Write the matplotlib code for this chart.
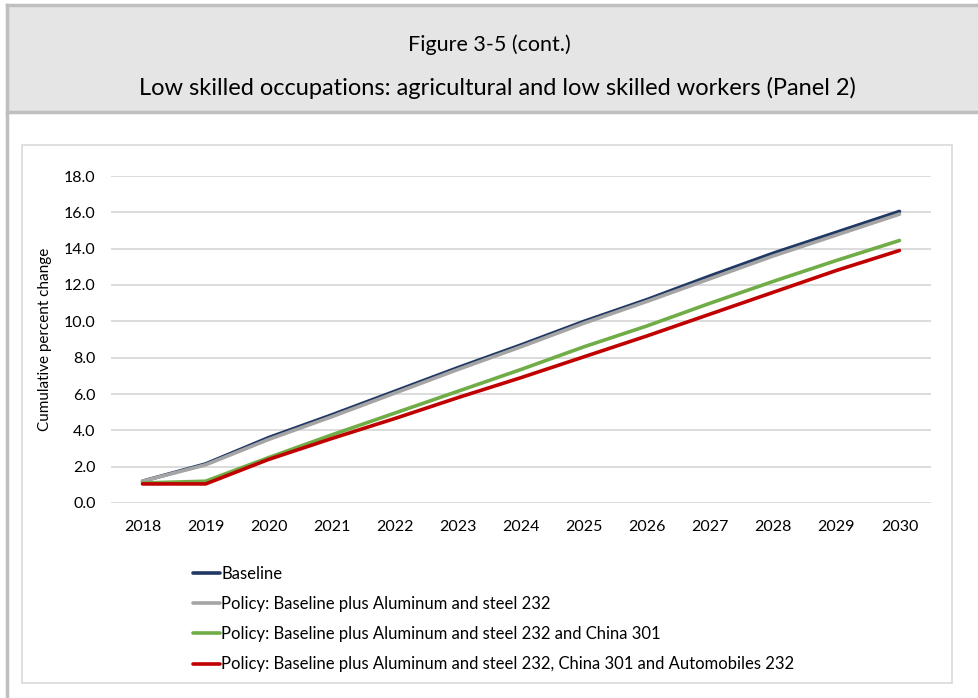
import matplotlib
matplotlib.use("Agg")
import matplotlib.pyplot as plt
from matplotlib.lines import Line2D
from matplotlib.patches import Rectangle
from matplotlib import font_manager

# Series data
years = ["2018", "2019", "2020", "2021", "2022", "2023", "2024",
         "2025", "2026", "2027", "2028", "2029", "2030"]
baseline = [1.2, 2.15, 3.6, 4.85, 6.15, 7.45, 8.7, 10.0, 11.2, 12.5, 13.75, 14.9, 16.05]
policy_alsteel = [1.2, 2.1, 3.5, 4.75, 6.05, 7.35, 8.6, 9.9, 11.1, 12.35, 13.6, 14.75, 15.9]
policy_china = [1.1, 1.2, 2.5, 3.75, 4.95, 6.15, 7.35, 8.6, 9.75, 11.0, 12.2, 13.35, 14.45]
policy_autos = [1.05, 1.05, 2.4, 3.55, 4.65, 5.8, 6.9, 8.05, 9.2, 10.4, 11.6, 12.8, 13.9]

series_names = [
    "Baseline",
    "Policy: Baseline plus Aluminum and steel 232",
    "Policy: Baseline plus Aluminum and steel 232 and China 301",
    "Policy: Baseline plus Aluminum and steel 232, China 301 and Automobiles 232",
]
series_colors = ["#203864", "#a5a5a5", "#70ad47", "#c00000"]
y_ticks = [0, 2, 4, 6, 8, 10, 12, 14, 16, 18]

title_line1 = "Figure 3-5 (cont.)"
title_line2 = "Low skilled occupations: agricultural and low skilled workers (Panel 2)"
y_label = "Cumulative percent change"

available = {f.name for f in font_manager.fontManager.ttflist}
body_font = "Lato" if "Lato" in available else "DejaVu Sans"
title_font = body_font

W, H = 979, 698
fig = plt.figure(figsize=(W / 100, H / 100), dpi=100)
fig.patch.set_facecolor("white")


def px(x, y):
    return x / W, 1 - y / H


# Header band and frame
x0, y0 = px(7, 5)
x1, y1 = px(W + 5, 112)
fig.patches.append(Rectangle((x0, y1), x1 - x0, y0 - y1, transform=fig.transFigure,
                             facecolor="#e5e5e5", edgecolor="none", zorder=0))
fig.lines.append(Line2D([x0, x1], [y0, y0], transform=fig.transFigure, color="#bfbfbf", lw=2.5))
fig.lines.append(Line2D([x0, x1], [y1, y1], transform=fig.transFigure, color="#bfbfbf", lw=2.5))
fig.lines.append(Line2D([x0, x0], [y0, 0], transform=fig.transFigure, color="#bfbfbf", lw=2.5))

# Chart area border
cx0, cy0 = px(22, 145)
cx1, cy1 = px(952, 683)
fig.patches.append(Rectangle((cx0, cy1), cx1 - cx0, cy0 - cy1, transform=fig.transFigure,
                             facecolor="none", edgecolor="#d9d9d9", lw=1.2, zorder=0))

# Titles
fig.text(*px(489, 45), title_line1, ha="center", va="center",
         fontsize=15.5, family=title_font, color="#000000")
fig.text(*px(497, 88), title_line2, ha="center", va="center",
         fontsize=17, family=title_font, color="#000000")

# Plot area
ax_l, ax_b = px(111, 503)
ax_r, ax_t = px(931, 176)
ax = fig.add_axes([ax_l, ax_b, ax_r - ax_l, ax_t - ax_b])
ax.set_facecolor("none")

x = list(range(len(years)))
series = [baseline, policy_alsteel, policy_china, policy_autos]
for vals, name, col in zip(series, series_names, series_colors):
    ax.plot(x, vals, color=col, lw=2.6, label=name, solid_capstyle="round",
            solid_joinstyle="round")

ax.set_xlim(-0.5, len(years) - 0.5)
ax.set_ylim(0, 18)
ax.set_yticks(y_ticks)
ax.set_yticklabels([f"{v:.1f}" for v in y_ticks])
ax.set_xticks(x)
ax.set_xticklabels(years)
ax.yaxis.grid(True, color="#d9d9d9", lw=1.3)
ax.set_axisbelow(True)
for s in ax.spines.values():
    s.set_visible(False)
ax.tick_params(axis="both", length=0, labelsize=11.5, colors="#000000")
ax.tick_params(axis="y", pad=11)
ax.tick_params(axis="x", pad=12)
for lab in ax.get_xticklabels() + ax.get_yticklabels():
    lab.set_family(body_font)

fig.text(*px(45, 339), y_label, rotation=90, ha="center", va="center",
         fontsize=11, family=body_font, color="#000000")

# Legend
handles, labels = ax.get_legend_handles_labels()
leg = fig.legend(handles, labels, loc="upper left", bbox_to_anchor=px(178, 551),
                 bbox_transform=fig.transFigure, frameon=False, ncol=1,
                 handlelength=1.65, handletextpad=0.05, labelspacing=0.85,
                 prop={"family": body_font, "size": 12})

fig.savefig("out.png", dpi=100, facecolor="white")
